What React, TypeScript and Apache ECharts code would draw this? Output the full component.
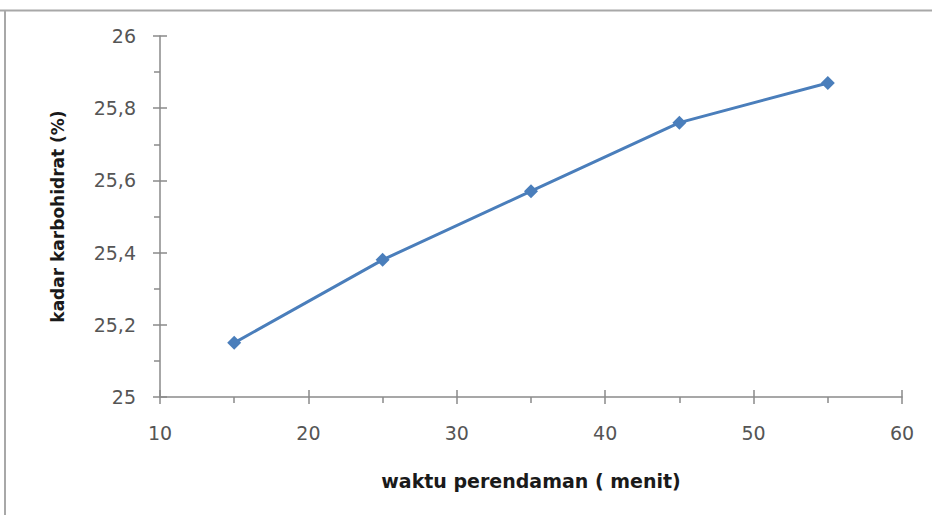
import React, { useEffect, useRef } from "react";
import * as echarts from "echarts";

const waktu = [15, 25, 35, 45, 55];
const kadar = [25.15, 25.38, 25.57, 25.76, 25.87];
const xTitle = "waktu perendaman ( menit)";
const yTitle = "kadar karbohidrat (%)";

export default function App() {
  const ref = useRef<HTMLDivElement>(null);
  useEffect(() => {
    if (!ref.current) return;
    const chart = echarts.init(ref.current, null, { renderer: "svg" });
    const font = "'DejaVu Sans', 'Open Sans', sans-serif";
    const axisGray = "#8a8a8a";
    const baseX = {
      type: "value",
      min: 10,
      max: 60,
      interval: 10,
      position: "bottom",
      splitLine: { show: false },
    };
    const baseY = {
      type: "value",
      min: 25,
      max: 26,
      interval: 0.2,
      position: "left",
      splitLine: { show: false },
    };
    chart.setOption({
      animation: false,
      backgroundColor: "#ffffff",
      grid: { left: 160, right: 30, top: 36, bottom: 118, containLabel: false },
      xAxis: [
        {
          ...baseX,
          name: xTitle,
          nameLocation: "middle",
          nameGap: 74,
          nameTextStyle: { fontFamily: font, fontSize: 19, fontWeight: "bold", color: "#1a1a1a" },
          axisLine: { show: true, lineStyle: { color: axisGray, width: 1.5 } },
          axisTick: { show: true, inside: false, length: 7, lineStyle: { color: axisGray, width: 1.5 } },
          minorTick: { show: true, splitNumber: 2, length: 6, lineStyle: { color: axisGray, width: 1.5 } },
          axisLabel: { margin: 26, fontFamily: font, fontSize: 19, color: "#555" },
        },
        {
          ...baseX,
          axisLine: { show: false },
          axisTick: { show: true, inside: true, length: 7, lineStyle: { color: axisGray, width: 1.5 } },
          axisLabel: { show: false },
        },
      ],
      yAxis: [
        {
          ...baseY,
          name: yTitle,
          nameLocation: "middle",
          nameGap: 94,
          nameRotate: 90,
          nameTextStyle: { fontFamily: font, fontSize: 17, fontWeight: "bold", color: "#1a1a1a" },
          axisLine: { show: true, lineStyle: { color: axisGray, width: 1.5 } },
          axisTick: { show: true, inside: false, length: 7, lineStyle: { color: axisGray, width: 1.5 } },
          minorTick: { show: true, splitNumber: 2, length: 6, lineStyle: { color: axisGray, width: 1.5 } },
          axisLabel: {
            margin: 24,
            fontFamily: font,
            fontSize: 19,
            color: "#555",
            formatter: (v: number) => String(Math.round(v * 10) / 10).replace(".", ","),
          },
        },
        {
          ...baseY,
          axisLine: { show: false },
          axisTick: { show: true, inside: true, length: 7, lineStyle: { color: axisGray, width: 1.5 } },
          axisLabel: { show: false },
        },
      ],
      series: [
        {
          type: "line",
          xAxisIndex: 0,
          yAxisIndex: 0,
          data: waktu.map((w, i) => [w, kadar[i]]),
          symbol: "diamond",
          symbolSize: 14,
          lineStyle: { color: "#4a7ebb", width: 3 },
          itemStyle: { color: "#4a7ebb" },
        },
      ],
      graphic: [
        {
          type: "line",
          shape: { x1: 0, y1: 10.5, x2: 932, y2: 10.5 },
          style: { stroke: "#a8a8a8", lineWidth: 2 },
        },
        {
          type: "line",
          shape: { x1: 5, y1: 10, x2: 5, y2: 515 },
          style: { stroke: "#a8a8a8", lineWidth: 2 },
        },
      ],
    });
    return () => chart.dispose();
  }, []);
  return (
    <div
      ref={ref}
      style={{ position: "fixed", left: 0, top: 0, width: 932, height: 515 }}
    />
  );
}
